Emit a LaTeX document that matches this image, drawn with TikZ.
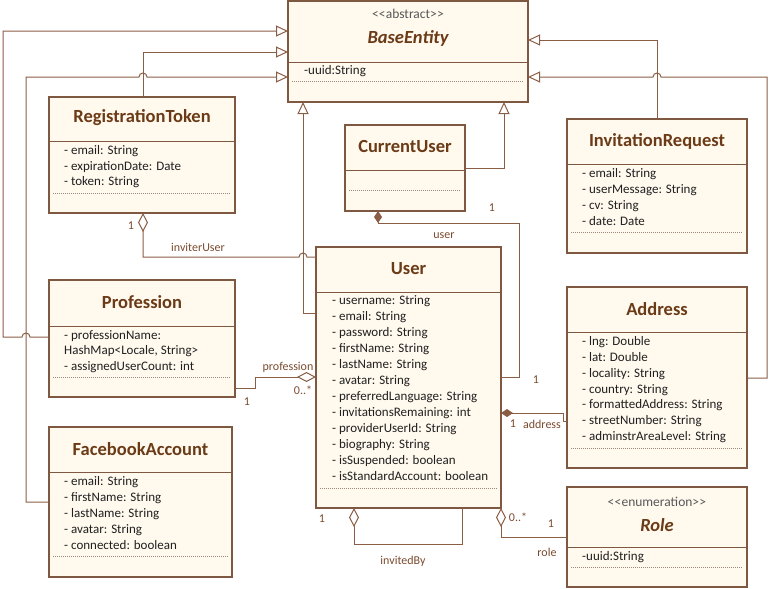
\documentclass[tikz,border=0pt]{standalone}
\usepackage{fontspec}
\setmainfont{Carlito}
\usetikzlibrary{arrows.meta}
\definecolor{boxfill}{HTML}{FFF9EE}
\definecolor{boxline}{HTML}{7E5840}
\definecolor{titlecol}{HTML}{6B3A16}
\definecolor{linkcol}{HTML}{8A5E44}
\definecolor{labelcol}{HTML}{7A4A2E}
\definecolor{attrcol}{HTML}{202020}
\definecolor{dotcol}{HTML}{9A8878}
\newcommand{\umlbox}[7]{%
  \node[classbox, minimum width=#4pt, minimum height=#5pt] (#1) at (#2,#3) {};
  \draw[sepline] (#2,#6) -- ({#2+#4},#6);
  \draw[dotline] ({#2+4},#7) -- ({#2+#4-4},#7);
}
\newcommand{\lt}{<\kern0.2pt}
\newcommand{\gt}{>\kern0.2pt}
\begin{document}
\begin{tikzpicture}[x=1pt,y=-1pt,
  classbox/.style={draw=boxline, fill=boxfill, line width=1.1pt, inner sep=0pt, outer sep=0pt, anchor=north west},
  sepline/.style={draw=boxline, line width=1pt},
  dotline/.style={draw=dotcol, line width=0.9pt, dash pattern=on 1pt off 1pt},
  attr/.style={font=\fontsize{13}{16}\selectfont, text=attrcol, inner sep=0pt, anchor=mid west},
  ctitle/.style={font=\fontsize{18.5}{20}\selectfont\bfseries, text=titlecol, inner sep=0pt},
  atitle/.style={font=\fontsize{18.5}{20}\selectfont\bfseries\itshape, text=titlecol, inner sep=0pt},
  stereo/.style={font=\fontsize{13.5}{15}\selectfont, text=attrcol!75, inner sep=0pt},
  link/.style={draw=linkcol, line width=1pt},
  gen/.style={link, -{Triangle[open, length=12pt, width=11pt, line width=1pt]}},
  agg/.style={link, {Diamond[open, length=19pt, width=10pt, line width=1pt]}-},
  comp/.style={link, {Diamond[length=12pt, width=8pt]}-},
  lbl/.style={font=\fontsize{12}{14}\selectfont, text=labelcol, inner sep=0pt},
]
\useasboundingbox (0,0) rectangle (769,589);

% ---------- BaseEntity ----------
\umlbox{base}{288}{1}{240}{101}{62}{81}
\node[stereo] (baseS) at (408,14) {\lt\lt abstract\gt\gt};
\node[atitle] (baseT) at (408,38) {BaseEntity};
\node[attr] (baseA1) at (304,72) {-uuid:String};

% ---------- RegistrationToken ----------
\umlbox{regtoken}{49}{97}{186}{116}{141}{193}
\node[ctitle] (regT) at (142,118) {RegistrationToken};
\node[attr] (regA1) at (64,152) {- email: String};
\node[attr] (regA2) at (64,168) {- expirationDate: Date};
\node[attr] (regA3) at (64,183) {- token: String};

% ---------- CurrentUser ----------
\umlbox{curuser}{345}{125}{120}{86}{170}{190}
\node[ctitle] (curT) at (405,147) {CurrentUser};

% ---------- InvitationRequest ----------
\umlbox{invreq}{567}{119}{180}{134}{164}{232}
\node[ctitle] (invT) at (657,141) {InvitationRequest};
\node[attr] (invA1) at (582,175) {- email: String};
\node[attr] (invA2) at (582,191) {- userMessage: String};
\node[attr] (invA3) at (582,207) {- cv: String};
\node[attr] (invA4) at (582,223) {- date: Date};

% ---------- User ----------
\umlbox{user}{316}{247}{185}{261}{292}{488}
\node[ctitle] (userT) at (408.5,269) {User};
\foreach \t [count=\i] in {{- username: String},{- email: String},{- password: String},{- firstName: String},{- lastName: String},{- avatar: String},{- preferredLanguage: String},{- invitationsRemaining: int},{- providerUserId: String},{- biography: String},{- isSuspended: boolean},{- isStandardAccount: boolean}}
  \node[attr] (userA\i) at (332,{302+16*(\i-1)}) {\t};

% ---------- Profession ----------
\umlbox{prof}{49}{280}{186}{117}{326}{377}
\node[ctitle] (profT) at (142,302) {Profession};
\node[attr] (profA1) at (64,337) {- professionName:};
\node[attr] (profA2) at (64,352) {HashMap\lt Locale, String\gt};
\node[attr] (profA3) at (64,368) {- assignedUserCount: int};

% ---------- FacebookAccount ----------
\umlbox{fb}{49}{427}{183}{150}{472}{556}
\node[ctitle] (fbT) at (140.5,449) {FacebookAccount};
\node[attr] (fbA1) at (64,483) {- email: String};
\node[attr] (fbA2) at (64,499) {- firstName: String};
\node[attr] (fbA3) at (64,515) {- lastName: String};
\node[attr] (fbA4) at (64,531) {- avatar: String};
\node[attr] (fbA5) at (64,547) {- connected: boolean};

% ---------- Address ----------
\umlbox{address}{567}{287}{180}{181}{332}{448}
\node[ctitle] (addrT) at (657,309) {Address};
\foreach \t [count=\i] in {{- lng: Double},{- lat: Double},{- locality: String},{- country: String},{- formattedAddress: String},{- streetNumber: String},{- adminstrAreaLevel: String}}
  \node[attr] (addrA\i) at (582,{343+15.9*(\i-1)}) {\t};

% ---------- Role ----------
\umlbox{role}{567}{487}{180}{100}{547}{567}
\node[stereo] (roleS) at (657,502) {\lt\lt enumeration\gt\gt};
\node[atitle] (roleT) at (657,525) {Role};
\node[attr] (roleA1) at (582,558) {-uuid:String};

% ---------- Generalizations ----------
\draw[gen] (prof.west |- 0,337) -- (30,337) arc[start angle=0, end angle=180, radius=4pt] -- (3,337) -- (3,31) -- (base.west |- 0,31);
\draw[gen] (143,0 |- regtoken.north) |- (base.west |- 0,52);
\draw[gen] (fb.west |- 0,502) -- (26,502) -- (26,77) -- (139,77) arc[start angle=180, end angle=0, radius=4pt] -- (base.west |- 0,77);
\draw[gen] (user.west |- 0,313) -| (303,0 |- base.south);
\draw[gen] (curuser.east |- 0,168) -| (504,0 |- base.south);
\draw[gen] (657,0 |- invreq.north) |- (base.east |- 0,40);
\draw[gen] (address.east |- 0,378) -- (767,378) -- (767,77) -- (661,77) arc[start angle=0, end angle=180, radius=4pt] -- (base.east |- 0,77);

% ---------- Associations ----------
\draw[agg] (143,0 |- regtoken.south) -- (143,257) -- (299,257) arc[start angle=180, end angle=0, radius=4pt] -- (user.west |- 0,257);
\draw[agg] (user.west |- 0,377) -- (255,377) -- (255,388) -- (prof.east |- 0,388);
\draw[comp] (378,0 |- curuser.south) -- (378,223) -- (519,223) -- (519,377) -- (user.east |- 0,377);
\draw[comp] (user.east |- 0,413) -- (563,413) -- (563,421) -- (address.west |- 0,421);
\draw[agg] (354,0 |- user.south) -- (354,544) -- (462,544) -- (462,0 |- user.south);
\draw[agg] (501,0 |- user.south) -- (501,537) -- (role.west |- 0,537);

% ---------- Labels ----------
\node[lbl] (l1) at (131,226) {1};
\node[lbl] (l2) at (198,247) {inviterUser};
\node[lbl] (l3) at (444,236) {user};
\node[lbl] (l4) at (492,208) {1};
\node[lbl] (l5) at (536,380) {1};
\node[lbl] (l6) at (288,367) {profession};
\node[lbl] (l7) at (303,390) {0..*};
\node[lbl] (l8) at (247,402) {1};
\node[lbl] (l9) at (513,424) {1};
\node[lbl] (l10) at (542,424) {address};
\node[lbl] (l11) at (322,519) {1};
\node[lbl] (l12) at (403,561) {invitedBy};
\node[lbl] (l13) at (518,517) {0..*};
\node[lbl] (l14) at (551,524) {1};
\node[lbl] (l15) at (547,552) {role};
\end{tikzpicture}
\end{document}
